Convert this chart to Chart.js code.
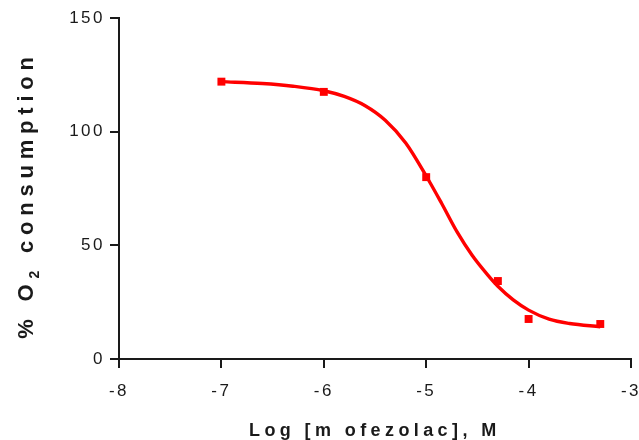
<!DOCTYPE html>
<html>
<head>
<meta charset="utf-8">
<script src="https://cdn.jsdelivr.net/npm/chart.js@4/dist/chart.umd.min.js"></script>
<style>
  html, body { margin: 0; padding: 0; background: #fff; }
  #wrap { width: 639px; height: 440px; }
</style>
</head>
<body>
<div id="wrap"><canvas id="chart"></canvas></div>
<script>
// measured points (log M, % O2 consumption)
const doseLog = [-7, -6, -5, -4.3, -4, -3.3];
const o2Pct = [122, 117.5, 80, 34.3, 17.6, 15.4];

// fitted curve
const curveX = [-7, -6.6, -6.3, -6.0, -5.8, -5.6, -5.4, -5.2, -5.0, -4.85, -4.7, -4.55, -4.4, -4.3, -4.15, -4.0, -3.8, -3.6, -3.3];
const curveY = [122, 121.2, 120, 118, 115.5, 111.5, 105, 95, 80.5, 68.5, 56, 45.5, 37, 32, 26, 21.5, 17.5, 15.6, 14.2];

const xTicks = [-8, -7, -6, -5, -4, -3];
const yTicks = [0, 50, 100, 150];

const INK = '#1a1a1a';
const RED = '#ff0000';
const FONT = 'Liberation Sans, Arial, sans-serif';

// wide letter spacing like the original graph
const spacing = {
    id: 'spacing',
    beforeDraw(chart) { chart.ctx.letterSpacing = '2.5px'; },
    afterDraw(chart) {
        const ctx = chart.ctx;
        const area = chart.chartArea;
        ctx.save();
        ctx.fillStyle = INK;

        // x title
        ctx.font = 'bold 18px ' + FONT;
        ctx.letterSpacing = '4.4px';
        ctx.textAlign = 'left';
        ctx.textBaseline = 'alphabetic';
        ctx.fillText('Log [m ofezolac], M', 249, 436);

        // y title with subscript 2
        const big = 'bold 22px ' + FONT, small = 'bold 14px ' + FONT;
        const parts = [['% O', big, 0], ['2', small, 6], [' consumption', big, 0]];
        ctx.letterSpacing = '5.8px';
        let total = 0;
        parts.forEach(p => { ctx.font = p[1]; total += ctx.measureText(p[0]).width; });
        ctx.translate(33, 195);
        ctx.rotate(-Math.PI / 2);
        let pos = -total / 2;
        parts.forEach(p => {
            ctx.font = p[1];
            ctx.fillText(p[0], pos, p[2]);
            pos += ctx.measureText(p[0]).width;
        });
        ctx.restore();
        ctx.letterSpacing = '0px';
    }
};

const axisCommon = {
    grid: { drawOnChartArea: false, drawTicks: true, tickLength: 9, color: INK, lineWidth: 2 },
    border: { display: true, color: INK, width: 2 },
};

new Chart(document.getElementById('chart'), {
    type: 'scatter',
    data: {
        datasets: [
            {
                data: doseLog.map((x, i) => ({ x, y: o2Pct[i] })),
                pointStyle: 'rect',
                pointRadius: 5.6,
                pointBackgroundColor: RED,
                pointBorderWidth: 0,
                showLine: false,
            },
            {
                data: curveX.map((x, i) => ({ x, y: curveY[i] })),
                showLine: true,
                borderColor: RED,
                borderWidth: 3.4,
                pointRadius: 0,
                cubicInterpolationMode: 'monotone',
            }
        ]
    },
    options: {
        responsive: true,
        maintainAspectRatio: false,
        animation: false,
        layout: { padding: { top: 18, right: 8, left: 0, bottom: 0 } },
        plugins: { legend: { display: false }, tooltip: { enabled: false } },
        scales: {
            x: {
                ...axisCommon,
                type: 'linear',
                min: -8, max: -3,
                afterBuildTicks: s => { s.ticks = xTicks.map(v => ({ value: v })); },
                afterFit: s => { s.height = 81; s.paddingLeft = 0; s.paddingRight = 0; },
                ticks: { color: INK, font: { family: FONT, size: 17 }, padding: 13, maxRotation: 0 },
            },
            y: {
                ...axisCommon,
                min: 0, max: 150,
                afterBuildTicks: s => { s.ticks = yTicks.map(v => ({ value: v })); },
                afterFit: s => { s.width = 119; s.paddingTop = 0; s.paddingBottom = 0; },
                ticks: { color: INK, font: { family: FONT, size: 17 }, padding: 5 },
            }
        }
    },
    plugins: [spacing]
});
</script>
</body>
</html>
